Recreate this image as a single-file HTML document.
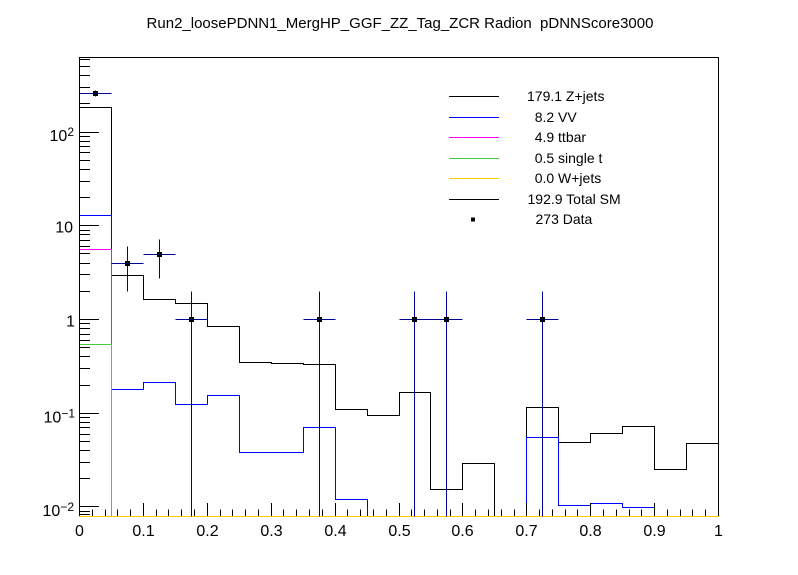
<!DOCTYPE html>
<html>
<head>
<meta charset="utf-8">
<style>
  html, body { margin: 0; padding: 0; background: #ffffff; }
  svg { display: block; }
  text { font-family: "Liberation Sans", Arial, Helvetica, sans-serif; fill: #000; }
</style>
</head>
<body>
<svg width="798" height="575" viewBox="0 0 798 575" xmlns="http://www.w3.org/2000/svg">
  <rect x="0" y="0" width="798" height="575" fill="#ffffff"/>
  <defs>
    <clipPath id="plot"><rect x="79" y="57" width="640" height="461"/></clipPath>
  </defs>

  <!-- Title -->
  <text x="400" y="28" font-size="15" text-anchor="middle">Run2_loosePDNN1_MergHP_GGF_ZZ_Tag_ZCR Radion &#160;pDNNScore3000</text>

  <!-- Histograms -->
  <g clip-path="url(#plot)" fill="none" stroke-width="1">
    <path stroke="#000000" d="M79.5,516.5 V107.5 H111.5 V275.5 H143.5 V299.5 H175.5 V303.5 H207.5 V326.5 H239.5 V362.5 H271.5 V363.5 H303.5 V364.5 H335.5 V409.5 H367.5 V415.5 H399.5 V392.5 H430.5 V489.5 H462.5 V463.5 H494.5 V516.5 H526.5 V407.5 H558.5 V442.5 H590.5 V433.5 H622.5 V426.5 H654.5 V469.5 H686.5 V443.5 H718.5 V516.5"/>
    <path stroke="#0000ff" d="M79.5,516.5 V215.5 H111.5 V389.5 H143.5 V382.5 H175.5 V404.5 H207.5 V395.5 H239.5 V452.5 H303.5 V427.5 H335.5 V499.5 H367.5 V516.5 H526.5 V437.5 H558.5 V505.5 H590.5 V503.5 H622.5 V507.5 H654.5 V516.5 H718.5"/>
    <path stroke="#ff00ff" d="M79.5,516.5 V249.5 H111.5 V516.5 H718.5"/>
    <path stroke="#44cc44" d="M79.5,516.5 V344.5 H111.5 V516.5 H718.5"/>
  </g>

  <!-- Frame -->
  <path d="M79.5,516.5 V57.5 H718.5 V516.5" fill="none" stroke="#000" stroke-width="1"/>
  <line x1="79" y1="516.5" x2="719" y2="516.5" stroke="#ffcc00" stroke-width="1"/>

  <!-- X ticks -->
  <g stroke="#000" stroke-width="1">
    <path d="M79.5,516 V503 M143.5,516 V503 M207.5,516 V503 M271.5,516 V503 M335.5,516 V503 M399.5,516 V503 M462.5,516 V503 M526.5,516 V503 M590.5,516 V503 M654.5,516 V503 M718.5,516 V503"/>
    <path d="M92.5,516 V509.5 M105.5,516 V509.5 M117.5,516 V509.5 M130.5,516 V509.5
             M156.5,516 V509.5 M168.5,516 V509.5 M181.5,516 V509.5 M194.5,516 V509.5
             M220.5,516 V509.5 M232.5,516 V509.5 M245.5,516 V509.5 M258.5,516 V509.5
             M283.5,516 V509.5 M296.5,516 V509.5 M309.5,516 V509.5 M322.5,516 V509.5
             M347.5,516 V509.5 M360.5,516 V509.5 M373.5,516 V509.5 M386.5,516 V509.5
             M411.5,516 V509.5 M424.5,516 V509.5 M437.5,516 V509.5 M450.5,516 V509.5
             M475.5,516 V509.5 M488.5,516 V509.5 M501.5,516 V509.5 M514.5,516 V509.5
             M539.5,516 V509.5 M552.5,516 V509.5 M565.5,516 V509.5 M577.5,516 V509.5
             M603.5,516 V509.5 M616.5,516 V509.5 M629.5,516 V509.5 M641.5,516 V509.5
             M667.5,516 V509.5 M680.5,516 V509.5 M692.5,516 V509.5 M705.5,516 V509.5"/>
  </g>

  <!-- Y ticks -->
  <g stroke="#000" stroke-width="1">
    <path d="M80,132.5 H99 M80,225.5 H99 M80,319.5 H99 M80,413.5 H99 M80,506.5 H99"/>
    <path d="M80,59.5 H90 M80,66.5 H90 M80,75.5 H90 M80,87.5 H90 M80,103.5 H90
             M80,136.5 H90 M80,141.5 H90 M80,146.5 H90 M80,152.5 H90 M80,160.5 H90 M80,169.5 H90 M80,181.5 H90 M80,197.5 H90
             M80,230.5 H90 M80,234.5 H90 M80,240.5 H90 M80,246.5 H90 M80,253.5 H90 M80,263.5 H90 M80,274.5 H90 M80,291.5 H90
             M80,323.5 H90 M80,328.5 H90 M80,334.5 H90 M80,340.5 H90 M80,347.5 H90 M80,356.5 H90 M80,368.5 H90 M80,385.5 H90
             M80,417.5 H90 M80,422.5 H90 M80,427.5 H90 M80,434.5 H90 M80,441.5 H90 M80,450.5 H90 M80,462.5 H90 M80,478.5 H90
             M80,511.5 H90 M80,514.5 H90"/>
  </g>

  <!-- X labels -->
  <g font-size="16" text-anchor="middle">
    <text x="79.5" y="536">0</text>
    <text x="143.5" y="536">0.1</text>
    <text x="207.5" y="536">0.2</text>
    <text x="271.5" y="536">0.3</text>
    <text x="335.5" y="536">0.4</text>
    <text x="399.5" y="536">0.5</text>
    <text x="462.5" y="536">0.6</text>
    <text x="526.5" y="536">0.7</text>
    <text x="590.5" y="536">0.8</text>
    <text x="654.5" y="536">0.9</text>
    <text x="718.5" y="536">1</text>
  </g>

  <!-- Y labels -->
  <g font-size="16" text-anchor="end">
    <text x="74" y="141">10<tspan font-size="12" dy="-5">2</tspan></text>
    <text x="73" y="232.5">10</text>
    <text x="75" y="326.5">1</text>
    <text x="75" y="422.5">10<tspan font-size="12" dy="-5">−1</tspan></text>
    <text x="74" y="516">10<tspan font-size="12" dy="-5">−2</tspan></text>
  </g>

  <!-- Data -->
  <g stroke="#000099" stroke-width="1" fill="none">
    <path d="M79.5,93.5 H111.5 M95.5,90.5 V96.5"/>
    <path d="M111.5,263.5 H143.5 M127.5,246.5 V291.5"/>
    <path d="M143.5,254.5 H175.5 M159.5,239.5 V278.5"/>
    <path d="M175.5,319.5 H207.5 M191.5,291.5 V516.5"/>
    <path d="M303.5,319.5 H335.5 M319.5,291.5 V516.5"/>
    <path d="M399.5,319.5 H430.5 M414.5,291.5 V516.5"/>
    <path d="M430.5,319.5 H462.5 M446.5,291.5 V516.5"/>
    <path d="M526.5,319.5 H558.5 M542.5,291.5 V516.5"/>
  </g>
  <g fill="#000">
    <rect x="93" y="91" width="5" height="5"/>
    <rect x="125" y="261" width="5" height="5"/>
    <rect x="157" y="252" width="5" height="5"/>
    <rect x="189" y="317" width="5" height="5"/>
    <rect x="317" y="317" width="5" height="5"/>
    <rect x="412" y="317" width="5" height="5"/>
    <rect x="444" y="317" width="5" height="5"/>
    <rect x="540" y="317" width="5" height="5"/>
  </g>

  <!-- Legend -->
  <g stroke-width="1">
    <line x1="449" y1="96.5" x2="499" y2="96.5" stroke="#000000"/>
    <line x1="449" y1="117.5" x2="499" y2="117.5" stroke="#0000ff"/>
    <line x1="449" y1="137.5" x2="499" y2="137.5" stroke="#ff00ff"/>
    <line x1="449" y1="158.5" x2="499" y2="158.5" stroke="#44cc44"/>
    <line x1="449" y1="178.5" x2="499" y2="178.5" stroke="#ffcc00"/>
    <line x1="449" y1="199.5" x2="499" y2="199.5" stroke="#000000"/>
  </g>
  <rect x="471" y="217.5" width="4" height="4" fill="#000"/>
  <g font-size="14">
    <text x="527" y="101">179.1 Z+jets</text>
    <text x="534.7" y="122">8.2 VV</text>
    <text x="534.7" y="142">4.9 ttbar</text>
    <text x="534.7" y="163">0.5 single t</text>
    <text x="534.7" y="183">0.0 W+jets</text>
    <text x="527.5" y="204">192.9 Total SM</text>
    <text x="535.5" y="224">273 Data</text>
  </g>
</svg>
</body>
</html>
